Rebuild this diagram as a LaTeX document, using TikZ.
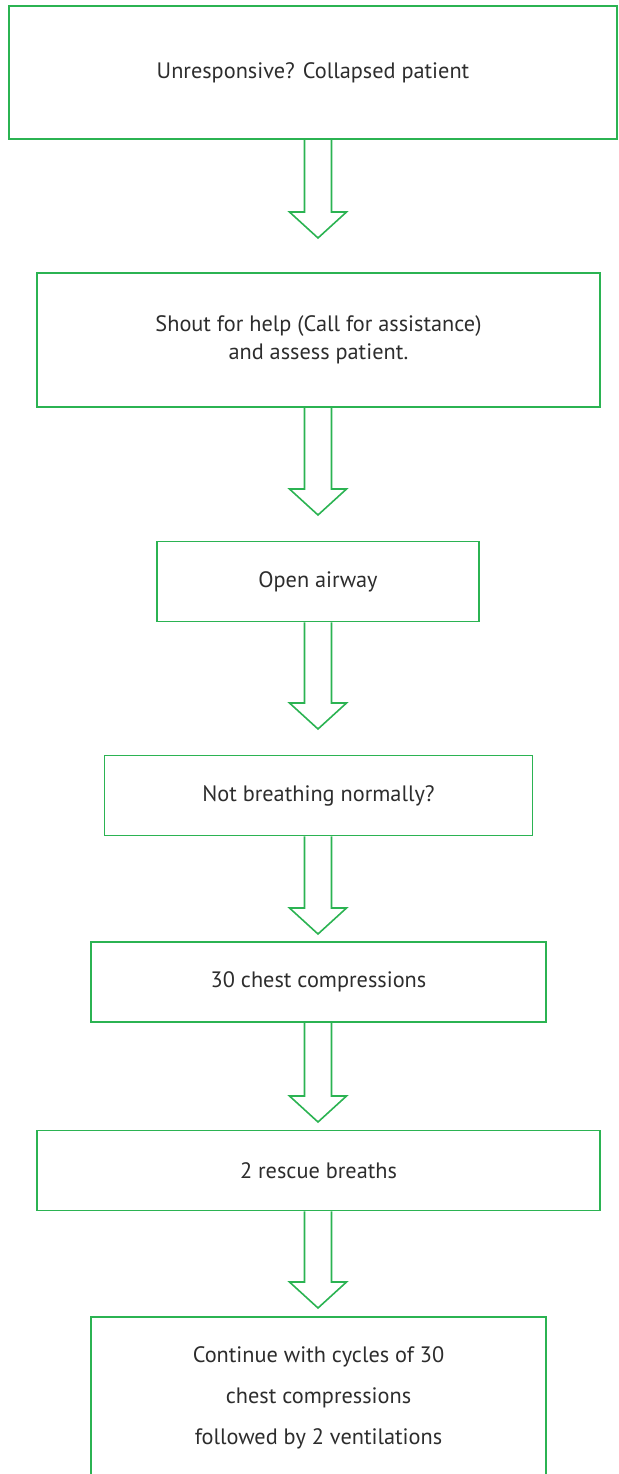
\documentclass[tikz,border=0pt]{standalone}
\usepackage{fontspec}
\setmainfont{PT Sans}
\usetikzlibrary{calc}

\definecolor{cprgreen}{RGB}{43,179,82}
\definecolor{cprtext}{RGB}{45,45,45}

\tikzset{
  stepbox/.style={draw=cprgreen, line width=1.8pt, rectangle, align=center,
    text=cprtext, inner sep=0pt, font=\fontsize{22.3}{28}\selectfont},
  hollow/.style={draw=cprgreen, line width=1.6pt, line join=miter}
}

% hollow block arrow from the bottom of a box down to a tip
\newcommand{\flowarrow}[2]{
  \draw[hollow] let \p1 = (#1.south), \p2 = (#2) in
    (\x2-13.5pt,\y1) -- (\x2-13.5pt,\y2+26pt) -- (\x2-28.5pt,\y2+26pt)
    -- (\x2,\y2) -- (\x2+28.5pt,\y2+26pt) -- (\x2+13.5pt,\y2+26pt)
    -- (\x2+13.5pt,\y1);
}

\begin{document}
\begin{tikzpicture}[x={(1pt,0)}, y={(0,-1pt)}]
  \useasboundingbox (0,0) rectangle (618,1474);

  \node[stepbox, minimum width=608pt, minimum height=133pt] (unresp) at (313,72.5)
    {Unresponsive? Collapsed patient};
  \node[stepbox, minimum width=563pt, minimum height=134pt] (shout) at (318.5,340)
    {Shout for help (Call for assistance)\\and assess patient.};
  \node[stepbox, minimum width=322pt, minimum height=80pt] (airway) at (318,581.5)
    {Open airway};
  \node[stepbox, minimum width=428pt, minimum height=80pt] (breath) at (318.5,795.5)
    {Not breathing normally?};
  \node[stepbox, minimum width=455pt, minimum height=80pt] (comp) at (318.5,982)
    {30 chest compressions};
  \node[stepbox, minimum width=563pt, minimum height=80pt] (rescue) at (318.5,1170.5)
    {2 rescue breaths};
  \node[stepbox, minimum width=455pt, minimum height=162pt,
    font=\fontsize{22.3}{41}\selectfont] (cycle) at (318.5,1398)
    {Continue with cycles of 30\\chest compressions\\followed by 2 ventilations};

  % arrow tips
  \coordinate (tip1) at (318,238);
  \coordinate (tip2) at (318,515);
  \coordinate (tip3) at (318,729);
  \coordinate (tip4) at (318,934);
  \coordinate (tip5) at (318,1122);
  \coordinate (tip6) at (318,1308);

  \flowarrow{unresp}{tip1}
  \flowarrow{shout}{tip2}
  \flowarrow{airway}{tip3}
  \flowarrow{breath}{tip4}
  \flowarrow{comp}{tip5}
  \flowarrow{rescue}{tip6}
\end{tikzpicture}
\end{document}
